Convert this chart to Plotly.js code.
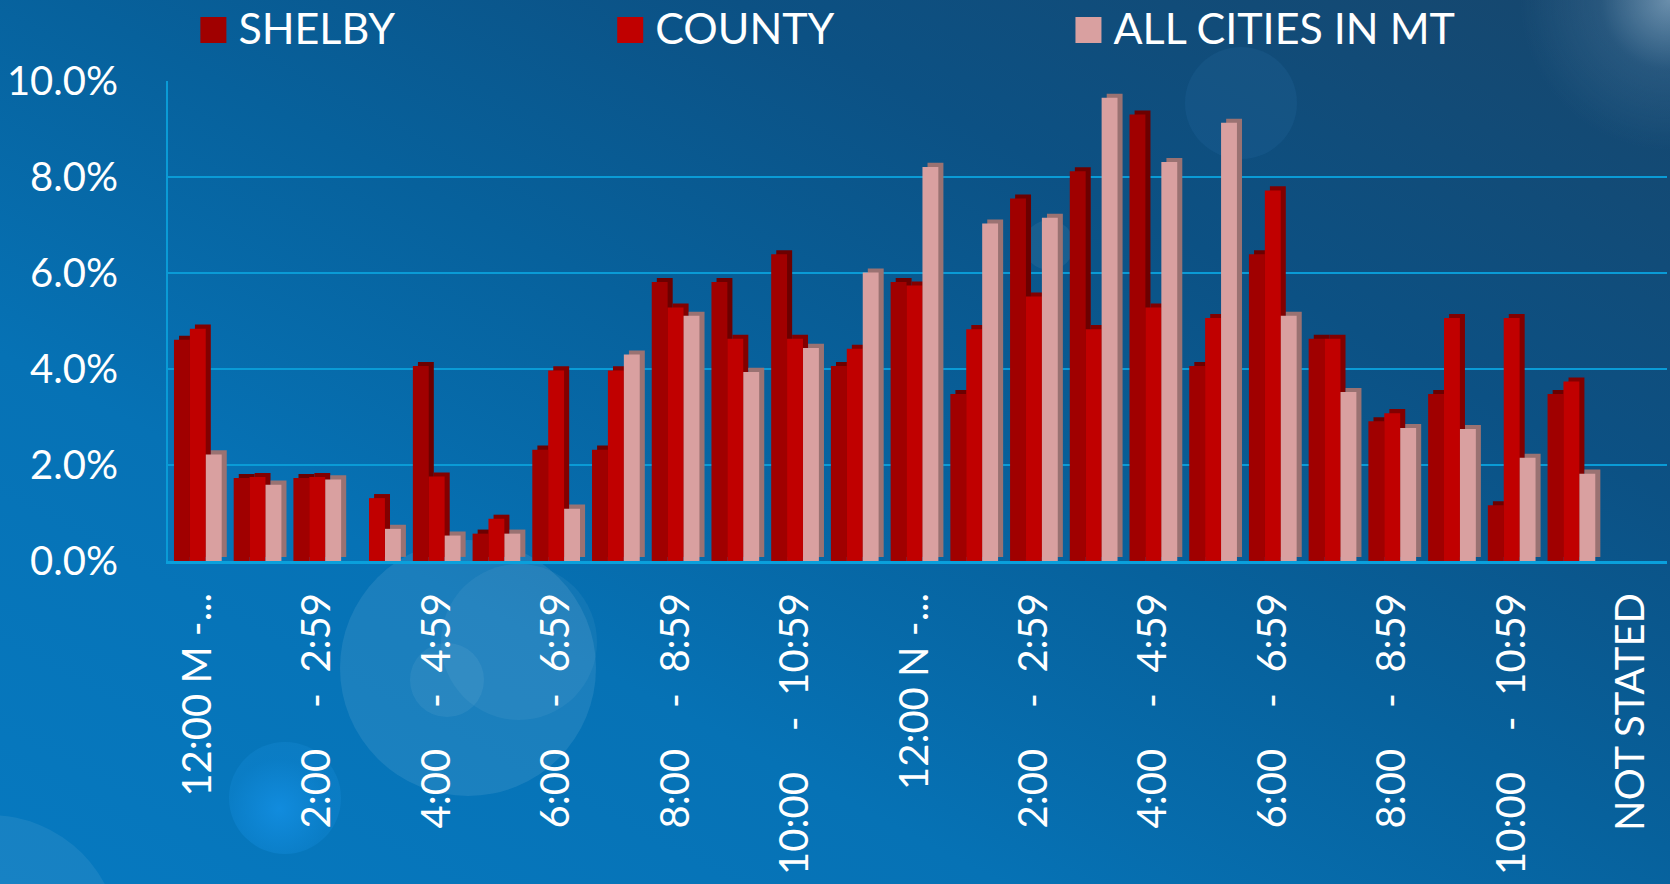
<!DOCTYPE html>
<html>
<head>
<meta charset="utf-8">
<script src="https://cdn.plot.ly/plotly-3.0.1.min.js"></script>
<style>
html, body { margin:0; padding:0; width:1670px; height:884px; overflow:hidden; }
body {
  background:
    radial-gradient(circle at 1670px 0px, rgba(190,215,235,0.50) 0px, rgba(110,150,185,0.20) 70px, rgba(0,0,0,0) 150px),
    linear-gradient(to top right, #0679c0 0%, #0672b5 30%, #07619c 52%, #0c5184 72%, #17466c 100%);
}
.bokeh { position:absolute; border-radius:50%; pointer-events:none; }
#chart { position:absolute; left:0; top:0; width:1670px; height:884px; }
</style>
</head>
<body>
<div class="bokeh" style="left:340px;top:540px;width:256px;height:256px;background:rgba(200,225,245,0.11);"></div>
<div class="bokeh" style="left:441px;top:564px;width:156px;height:156px;background:rgba(255,255,255,0.05);"></div>
<div class="bokeh" style="left:410px;top:643px;width:74px;height:74px;background:rgba(255,255,255,0.06);"></div>
<div class="bokeh" style="left:229px;top:742px;width:112px;height:112px;background:radial-gradient(circle at 45% 60%, rgba(20,145,230,0.8) 0%, rgba(20,140,220,0.32) 55%, rgba(40,150,220,0.2) 100%);"></div>
<div class="bokeh" style="left:-140px;top:815px;width:260px;height:260px;background:rgba(255,255,255,0.07);"></div>
<div class="bokeh" style="left:1185px;top:47px;width:112px;height:112px;background:rgba(80,160,220,0.09);"></div>
<div class="bokeh" style="left:1024px;top:220px;width:50px;height:50px;background:rgba(255,255,255,0.06);"></div>
<div id="chart"></div>
<script>
// ---- data ----
const categories = [
  "12:00 M - 12:59 AM", "1:00 - 1:59 AM", "2:00 - 2:59 AM", "3:00 - 3:59 AM",
  "4:00 - 4:59 AM", "5:00 - 5:59 AM", "6:00 - 6:59 AM", "7:00 - 7:59 AM",
  "8:00 - 8:59 AM", "9:00 - 9:59 AM", "10:00 - 10:59 AM", "11:00 - 11:59 AM",
  "12:00 N - 12:59 PM", "1:00 - 1:59 PM", "2:00 - 2:59 PM", "3:00 - 3:59 PM",
  "4:00 - 4:59 PM", "5:00 - 5:59 PM", "6:00 - 6:59 PM", "7:00 - 7:59 PM",
  "8:00 - 8:59 PM", "9:00 - 9:59 PM", "10:00 - 10:59 PM", "11:00 - 11:59 PM",
  "NOT STATED"
];
const tickCategories = [
  "12:00 M - 12:59 AM", "2:00 - 2:59 AM", "4:00 - 4:59 AM", "6:00 - 6:59 AM",
  "8:00 - 8:59 AM", "10:00 - 10:59 AM", "12:00 N - 12:59 PM", "2:00 - 2:59 PM",
  "4:00 - 4:59 PM", "6:00 - 6:59 PM", "8:00 - 8:59 PM", "10:00 - 10:59 PM",
  "NOT STATED"
];
const tickLabels = [
  "12:00 M -...", "2:00 - 2:59", "4:00 - 4:59", "6:00 - 6:59",
  "8:00 - 8:59", "10:00 - 10:59", "12:00 N -...", "2:00 - 2:59",
  "4:00 - 4:59", "6:00 - 6:59", "8:00 - 8:59", "10:00 - 10:59",
  "NOT STATED"
];
const seriesNames = ["SHELBY", "COUNTY", "ALL CITIES IN MT"];
const shelby    = [4.61, 1.73, 1.73, 0.00, 4.06, 0.57, 2.32, 2.32, 5.81, 5.81, 6.39, 4.06, 5.81, 3.48, 7.55, 8.12, 9.30, 4.06, 6.39, 4.63, 2.91, 3.48, 1.16, 3.48, 0.00];
const county    = [4.84, 1.75, 1.75, 1.31, 1.76, 0.88, 3.97, 3.97, 5.28, 4.63, 4.63, 4.42, 5.74, 4.83, 5.51, 4.83, 5.28, 5.06, 7.72, 4.63, 3.08, 5.06, 5.06, 3.74, 0.00];
const allCities = [2.22, 1.59, 1.70, 0.67, 0.53, 0.57, 1.09, 4.30, 5.11, 3.94, 4.44, 6.01, 8.21, 7.03, 7.15, 9.65, 8.31, 9.13, 5.11, 3.52, 2.77, 2.75, 2.15, 1.82, 0.00];

// ---- styling ----
const FONT = "Lato, 'Open Sans', sans-serif";
const frontColors = ["#a00000", "#c00000", "#d9a0a0"];
const sideColors  = ["#6c0000", "#820000", "#9a7272"];
const offsets = [-0.40, -0.134, 0.133];
const barW = 0.266;
const depthX = 0.085;   // category units
const depthY = 0.085;   // percent units

const NB = "\u00a0";
const displayTicks = tickLabels.map(t => /\d - \d/.test(t) ? t.replace(" - ", NB.repeat(4) + "-" + NB.repeat(2)) : t);

const values = [shelby, county, allCities];
const traces = [];
values.forEach((vals, i) => {
  traces.push({
    type: "bar", x: categories, y: vals, base: depthY,
    offset: offsets[i] + depthX, width: barW,
    marker: { color: sideColors[i], line: { width: 0 } },
    showlegend: false, hoverinfo: "skip"
  });
});
values.forEach((vals, i) => {
  traces.push({
    type: "bar", name: seriesNames[i], x: categories, y: vals,
    offset: offsets[i], width: barW,
    marker: { color: frontColors[i], line: { width: 0 } },
    legend: i === 0 ? "legend" : ("legend" + (i + 1))
  });
});

const legendBase = {
  orientation: "h", xref: "container", yref: "container",
  xanchor: "left", yanchor: "middle", y: 0.9694,
  bgcolor: "rgba(0,0,0,0)", borderwidth: 0, itemwidth: 40,
  font: { family: FONT, size: 43, color: "#ffffff" }
};

const layout = {
  width: 1670, height: 884,
  paper_bgcolor: "rgba(0,0,0,0)", plot_bgcolor: "rgba(0,0,0,0)",
  margin: { l: 168, r: 3, t: 81, b: 323, autoexpand: false },
  barmode: "overlay",
  font: { family: FONT, color: "#ffffff" },
  xaxis: {
    type: "category", categoryorder: "array", categoryarray: categories,
    range: [-0.5, 24.6],
    tickmode: "array", tickvals: tickCategories, ticktext: displayTicks,
    tickangle: -90, ticks: "", ticklabelstandoff: 13,
    tickfont: { family: FONT, size: 40, color: "#ffffff" },
    showgrid: false, zeroline: false,
    showline: true, linecolor: "#0aa0dc", linewidth: 3
  },
  yaxis: {
    range: [0, 10], dtick: 2, tickformat: ".1f", ticksuffix: "%",
    tickfont: { family: FONT, size: 40, color: "#ffffff" },
    ticks: "", ticklabelstandoff: 40,
    showgrid: true, gridcolor: "#0a9bd6", gridwidth: 2.5,
    zeroline: false, showline: true, linecolor: "#0a9bd6", linewidth: 2
  },
  legend:  Object.assign({}, legendBase, { x: 0.1128 }),
  legend2: Object.assign({}, legendBase, { x: 0.3624 }),
  legend3: Object.assign({}, legendBase, { x: 0.6368 }),
  showlegend: true
};

// enlarge the legend swatches to the reference's 26px squares, 12px left of each label
function fixLegendSwatches() {
  document.querySelectorAll("#chart .infolayer g.traces").forEach(tr => {
    const txt = tr.querySelector("text");
    if (!txt) return;
    const paths = tr.querySelectorAll(".legendpoints path");
    paths.forEach((p, k) => {
      if (k > 0) { p.style.display = "none"; return; }
      p.setAttribute("d", "M13,13H-13V-13H13Z");
      const tb = txt.getBoundingClientRect();
      const pb = p.getBoundingClientRect();
      const dx = (tb.left - 12 - 13) - (pb.left + pb.width / 2);
      const dy = 30 - (pb.top + pb.height / 2);
      p.setAttribute("d", `M${13 + dx},${13 + dy}H${-13 + dx}V${-13 + dy}H${13 + dx}Z`);
      p.style.strokeWidth = "0px";
    });
  });
}

const gd = document.getElementById("chart");
Plotly.newPlot(gd, traces, layout, { displayModeBar: false, staticPlot: true }).then(() => {
  fixLegendSwatches();
  if (gd.on) gd.on("plotly_afterplot", fixLegendSwatches);
});
</script>
</body>
</html>
